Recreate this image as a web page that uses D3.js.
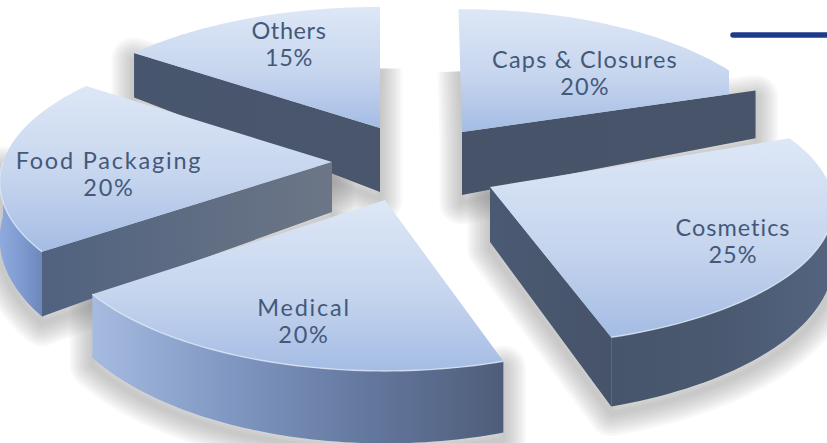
<!DOCTYPE html>
<html>
<head>
<meta charset="utf-8">
<script src="https://cdn.jsdelivr.net/npm/d3@7"></script>
<style>
html, body { margin: 0; padding: 0; background: #fff; overflow: hidden; }
text { font-family: Lato, "Open Sans", sans-serif; }
</style>
</head>
<body>
<svg id="chart" width="827" height="443"></svg>
<script>
// data, clockwise from 12 o'clock
var categories = ["Caps & Closures", "Cosmetics", "Medical", "Food Packaging", "Others"];
var shares = [20, 25, 20, 20, 15];

// exploded apex of each slice on screen, and how deep the inner edge is there
var apexX = [462, 490, 385, 332, 380];
var apexY = [132, 187, 200, 162, 128];
var apexDepth = [63, 55, 50, 50, 64];
// the slices in the original are not quite the same size
var sliceRx = [322, 340, 332, 329, 329];
var sliceRy = [140, 137, 147, 140, 138];
var rimScale = [1, 1, 1.03, 1.05, 1];
var startNudge = [-0.7, -4, 0, 0, 0]; // degrees
var labelDx = [123, 243, -81, -223, -91];
var labelDy = [-59, 54, 121, 12, -84];
var labelSpacing = [1.2, 1, 1.75, 1.8, 0.6];

// colours for the side faces, left to right
var wallStops = [
	["#465369", "#475469"],
	["#4b5a73", "#465369"],
	["#4a5a78", "#4a5a78"],
	["#50627f", "#6c7686"],
	["#47556e", "#4a566c"]
];
var rimStops = [
	["#465369", "#465369"],
	["#46546c", "#4a5970", "#546480"],
	["#a6bbe0", "#7f97c2", "#64789e", "#4e5d79"],
	["#8eaade", "#7f9bd0", "#6d87ba"],
	["#465369", "#465369"]
];

// back to front
var drawOrder = [4, 0, 3, 1, 2];

// perspective of the disc
var TILT = 0.14, RIM = 52;
var SHADOW_STEPS = 9;

function persp(a) {
	return 1 / (1 + TILT * Math.cos(a));
}
function project(i, a) {
	var w = persp(a);
	return [apexX[i] + sliceRx[i] * Math.sin(a) * w, apexY[i] - sliceRy[i] * Math.cos(a) * w];
}
function rimDepth(i, a) {
	var w = persp(a);
	return RIM * rimScale[i] * w * w;
}

var svg = d3.select("#chart");
var defs = svg.append("defs");
var line = d3.line();

var topGrad = defs.append("linearGradient").attr("id", "topGrad")
	.attr("x1", 0).attr("y1", 0).attr("x2", 0).attr("y2", 1);
topGrad.append("stop").attr("offset", "0%").attr("stop-color", "#dde7f6");
topGrad.append("stop").attr("offset", "55%").attr("stop-color", "#c6d5ee");
topGrad.append("stop").attr("offset", "100%").attr("stop-color", "#a4bce4");

function hGradient(id, colours) {
	var g = defs.append("linearGradient").attr("id", id)
		.attr("x1", 0).attr("y1", 0).attr("x2", 1).attr("y2", 0);
	colours.forEach(function(c, k) {
		g.append("stop").attr("offset", k / (colours.length - 1)).attr("stop-color", c);
	});
}

// the Caps slice is cut off vertically on its right side in the original
defs.append("clipPath").attr("id", "capsClip")
	.append("rect").attr("x", 0).attr("y", 0).attr("width", 729).attr("height", 443);

var pie = d3.pie().sort(null).startAngle(0).endAngle(2 * Math.PI);
var arcs = pie(shares);

function arcAngles(a0, a1) {
	return d3.range(0, 61).map(function(k) { return a0 + (a1 - a0) * k / 60; });
}

var shadowLayer = svg.append("g").attr("transform", "translate(0,7)");

drawOrder.forEach(function(i) {
	var d = arcs[i];
	var apex = [apexX[i], apexY[i]];
	var a0 = d.startAngle + startNudge[i] * Math.PI / 180;
	var angles = arcAngles(a0, d.endAngle);
	var edge = angles.map(function(a) { return project(i, a); });
	var outline = "";
	var g = svg.append("g");

	hGradient("wall" + i, wallStops[i]);
	hGradient("rim" + i, rimStops[i]);

	// straight inner walls: the start wall shows on the left, the end wall on the right
	[[a0, -1], [d.endAngle, 1]].forEach(function(w) {
		var a = w[0], p = project(i, a);
		if (Math.cos(a) > 0.95) {
			// back walls are hidden but throw a short shadow across the gap
			outline += line([apex, [apex[0] + (p[0] - apex[0]) * 0.55, apex[1] + (p[1] - apex[1]) * 0.55]]);
		} else if (Math.sin(a) * w[1] > 0) {
			var wall = line([apex, p, [p[0], p[1] + rimDepth(i, a)], [apex[0], apex[1] + apexDepth[i]]]) + "Z";
			outline += wall;
			g.append("path").attr("d", wall).attr("fill", "url(#wall" + i + ")");
		}
	});

	// curved wall, only where it faces the viewer
	var front = angles.filter(function(a) { return Math.cos(a) <= 0; });
	if (front.length > 1) {
		var upper = front.map(function(a) { return project(i, a); });
		var lower = front.map(function(a) {
			var p = project(i, a);
			return [p[0], p[1] + rimDepth(i, a)];
		}).reverse();
		var rim = line(upper.concat(lower)) + "Z";
		outline += rim;
		g.append("path").attr("d", rim).attr("fill", "url(#rim" + i + ")");
	}

	// top of the slice
	var topShape = line([apex].concat(edge)) + "Z";
	var top = g.append("g");
	if (categories[i] === "Caps & Closures") top.attr("clip-path", "url(#capsClip)");
	top.append("path").attr("d", topShape).attr("fill", "url(#topGrad)");
	if (front.length > 1) {
		top.append("path")
			.attr("d", line(front.map(function(a) { return project(i, a); })))
			.attr("fill", "none")
			.attr("stroke", "#e3ebf8")
			.attr("stroke-width", 1.4)
			.attr("stroke-opacity", 0.75);
	}

	// soft shadow: stacked wide strokes of the side faces, under everything
	d3.range(1, SHADOW_STEPS + 1).forEach(function(k) {
		shadowLayer.append("path")
			.attr("d", outline)
			.attr("fill", "none")
			.attr("stroke", "#72726e")
			.attr("stroke-width", k * 5)
			.attr("stroke-linejoin", "round")
			.attr("stroke-opacity", 0.05);
	});
});

// labels stay above every slice
categories.forEach(function(name, i) {
	var x = apexX[i] + labelDx[i], y = apexY[i] + labelDy[i];
	var t = svg.append("text")
		.attr("text-anchor", "middle")
		.attr("fill", "#44597a")
		.attr("font-size", 23.5)
		.attr("letter-spacing", labelSpacing[i]);
	t.append("tspan").attr("x", x).attr("y", y - 5).text(name);
	t.append("tspan").attr("x", x).attr("y", y + 22).text(shares[i] + "%");
});

// leftover rule in the top right corner of the slide
svg.append("line")
	.attr("x1", 733).attr("x2", 840).attr("y1", 35).attr("y2", 35)
	.attr("stroke", "#1f3a8a").attr("stroke-width", 5.5).attr("stroke-linecap", "round");
</script>
</body>
</html>
